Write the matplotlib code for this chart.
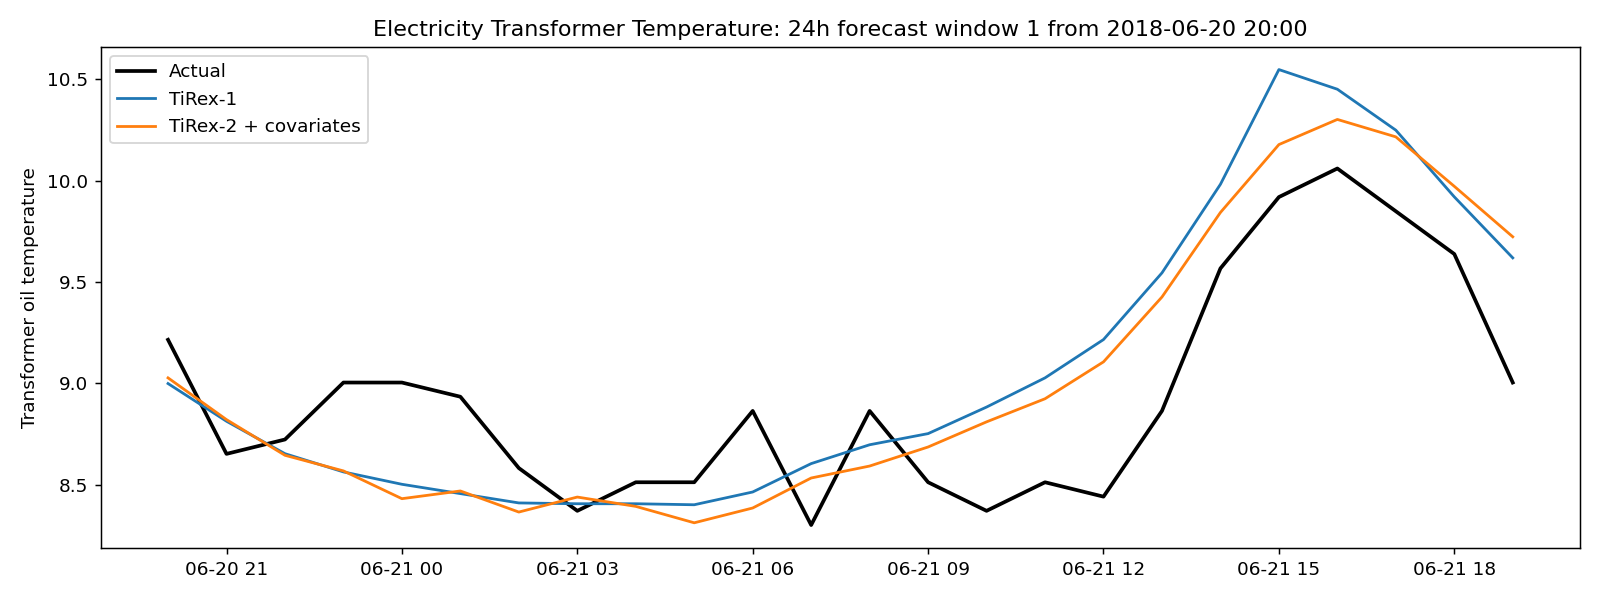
import pandas as pd
from matplotlib import pyplot as plt

# Forecast window: 24 hourly steps
times = pd.date_range("2018-06-20 20:00", periods=24, freq="h")

actual = [9.215, 8.652, 8.723, 9.004, 9.004, 8.934, 8.582, 8.371,
          8.512, 8.512, 8.864, 8.301, 8.864, 8.512, 8.371, 8.512,
          8.441, 8.864, 9.567, 9.919, 10.060, 9.849, 9.638, 9.004]

tirex1 = [8.999, 8.813, 8.653, 8.563, 8.502, 8.456, 8.410, 8.406,
          8.406, 8.401, 8.464, 8.604, 8.697, 8.752, 8.883, 9.027,
          9.216, 9.545, 9.982, 10.548, 10.451, 10.249, 9.920, 9.619]

tirex2 = [9.027, 8.821, 8.645, 8.568, 8.431, 8.469, 8.365, 8.439,
          8.393, 8.312, 8.385, 8.533, 8.592, 8.686, 8.810, 8.924,
          9.106, 9.426, 9.843, 10.178, 10.302, 10.216, 9.972, 9.723]

fig, ax = plt.subplots(figsize=(12, 4.5), dpi=1600 / 12)

ax.plot(times, actual, color="black", linewidth=2, label="Actual")
ax.plot(times, tirex1, label="TiRex-1")
ax.plot(times, tirex2, label="TiRex-2 + covariates")

ax.set_title("Electricity Transformer Temperature: 24h forecast window 1 from 2018-06-20 20:00")
ax.set_ylabel("Transformer oil temperature")
ax.legend(loc="upper left")

fig.subplots_adjust(left=0.063, right=0.9875, top=0.922, bottom=0.087)
fig.savefig("out.png", dpi=1600 / 12)
